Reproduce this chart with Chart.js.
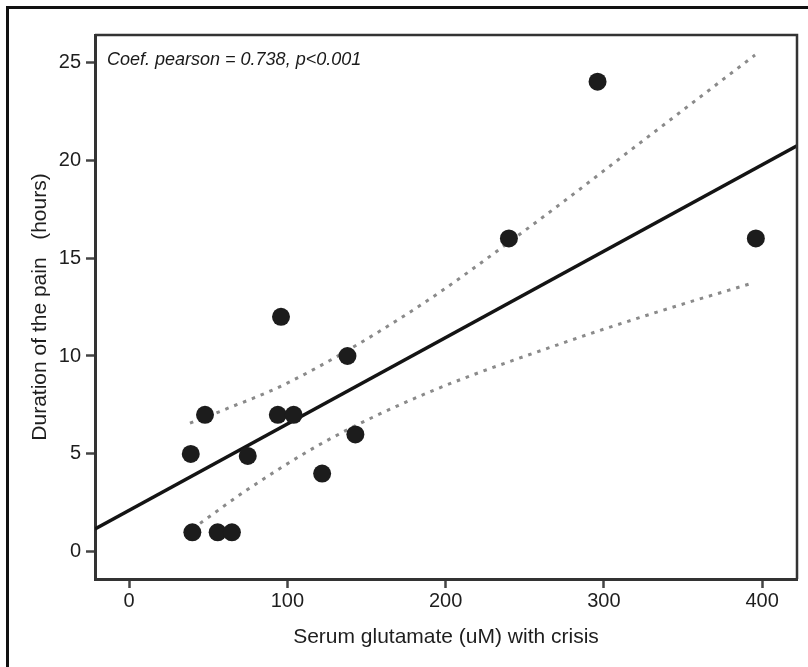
<!DOCTYPE html>
<html>
<head>
<meta charset="utf-8">
<script src="https://cdn.jsdelivr.net/npm/chart.js@4.4.1/dist/chart.umd.min.js"></script>
<style>
  html, body { margin: 0; padding: 0; background: #ffffff; }
  #wrap { width: 808px; height: 667px; position: relative; }
</style>
</head>
<body>
<div id="wrap"><canvas id="c" width="808" height="667"></canvas></div>
<script>
// Observed points: serum glutamate (uM) vs duration of pain (hours)
const glutamate = [39, 48, 40, 56, 65, 75, 94, 104, 122, 143, 96, 138, 240, 296, 396];
const painHours = [5, 7, 1, 1, 1, 4.9, 7, 7, 4, 6, 12, 10, 16, 24, 16];

// Regression line (read at the plot edges)
const fitX = [-21.5, 422];
const fitY = [1.17, 20.73];

// Confidence band, upper curve
const upperX = [38.5, 59.6, 99.6, 179.6, 253.4, 324.9, 395.5];
const upperY = [6.57, 7.24, 8.6, 12.35, 16.6, 21.0, 25.36];

// Confidence band, lower curve
const lowerX = [44.9, 74.4, 123.8, 188, 276.5, 331.2, 393.3];
const lowerY = [1.46, 3.16, 5.63, 8.1, 10.73, 12.18, 13.71];

// Axis ticks
const xTicks = [0, 100, 200, 300, 400];
const yTicks = [0, 5, 10, 15, 20, 25];

const annotationText = 'Coef. pearson = 0.738, p<0.001';
const xTitle = 'Serum glutamate (uM) with crisis';
const yTitle = 'Duration of the pain   (hours)';

const toPts = (xs, ys) => xs.map((x, i) => ({ x: x, y: ys[i] }));

const FONT = "'Liberation Sans', Arial, Helvetica, sans-serif";

const framePlugin = {
  id: 'framePlugin',
  beforeDraw(chart) {
    const ctx = chart.ctx;
    ctx.save();
    ctx.fillStyle = '#ffffff';
    ctx.fillRect(0, 0, chart.width, chart.height);
    ctx.strokeStyle = '#111111';
    ctx.lineWidth = 3;
    ctx.beginPath();
    ctx.moveTo(7.5, chart.height);
    ctx.lineTo(7.5, 7.5);
    ctx.lineTo(chart.width, 7.5);
    ctx.stroke();
    ctx.restore();
  },
  afterDraw(chart) {
    const ctx = chart.ctx;
    const a = chart.chartArea;
    ctx.save();
    ctx.strokeStyle = '#333333';
    ctx.lineWidth = 2.5;
    ctx.beginPath();
    ctx.moveTo(a.left, a.top);
    ctx.lineTo(a.right, a.top);
    ctx.lineTo(a.right, a.bottom);
    ctx.stroke();
    ctx.fillStyle = '#1a1a1a';
    ctx.font = 'italic 18px ' + FONT;
    ctx.textBaseline = 'alphabetic';
    ctx.textAlign = 'left';
    ctx.fillText(annotationText, 107, 65);
    ctx.restore();
  }
};

new Chart(document.getElementById('c'), {
  type: 'scatter',
  data: {
    datasets: [
      {
        label: 'Patients',
        data: toPts(glutamate, painHours),
        backgroundColor: '#1c1c1c',
        borderColor: '#1c1c1c',
        pointRadius: 9,
        pointBorderWidth: 0,
        showLine: false,
        order: 0
      },
      {
        label: 'Fit',
        data: toPts(fitX, fitY),
        showLine: true,
        borderColor: '#141414',
        borderWidth: 3.5,
        pointRadius: 0,
        fill: false,
        order: 1
      },
      {
        label: 'Upper CI',
        data: toPts(upperX, upperY),
        showLine: true,
        borderColor: '#8a8a8a',
        borderWidth: 3,
        borderDash: [3.5, 6],
        pointRadius: 0,
        cubicInterpolationMode: 'monotone',
        fill: false,
        order: 2
      },
      {
        label: 'Lower CI',
        data: toPts(lowerX, lowerY),
        showLine: true,
        borderColor: '#8a8a8a',
        borderWidth: 3,
        borderDash: [3.5, 6],
        pointRadius: 0,
        cubicInterpolationMode: 'monotone',
        fill: false,
        order: 2
      }
    ]
  },
  options: {
    responsive: false,
    animation: false,
    devicePixelRatio: 1,
    layout: { padding: { left: 0, top: 35, right: 11, bottom: 0 } },
    plugins: {
      legend: { display: false },
      tooltip: { enabled: false }
    },
    scales: {
      x: {
        type: 'linear',
        min: -21.5,
        max: 422,
        afterBuildTicks: (s) => { s.ticks = xTicks.map(v => ({ value: v })); },
        afterFit: (s) => { s.height = 88; },
        grid: {
          display: true,
          drawOnChartArea: false,
          drawTicks: true,
          tickLength: 9,
          tickWidth: 2.5,
          tickColor: '#444444'
        },
        border: { display: true, color: '#333333', width: 3 },
        ticks: {
          color: '#1e1e1e',
          font: { family: FONT, size: 20 },
          padding: 1,
          maxRotation: 0
        },
        title: {
          display: true,
          text: xTitle,
          color: '#1e1e1e',
          font: { family: FONT, size: 21 },
          padding: { top: 0, bottom: 17 }
        }
      },
      y: {
        type: 'linear',
        min: -1.38,
        max: 26.38,
        afterBuildTicks: (s) => { s.ticks = yTicks.map(v => ({ value: v })); },
        afterFit: (s) => { s.width = 95; },
        grid: {
          display: true,
          drawOnChartArea: false,
          drawTicks: true,
          tickLength: 9,
          tickWidth: 2.5,
          tickColor: '#444444'
        },
        border: { display: true, color: '#333333', width: 3 },
        ticks: {
          color: '#1e1e1e',
          font: { family: FONT, size: 20 },
          padding: 5
        },
        title: {
          display: true,
          text: yTitle,
          color: '#1e1e1e',
          font: { family: FONT, size: 21 },
          padding: { top: 28, bottom: 0 }
        }
      }
    }
  },
  plugins: [framePlugin]
});
</script>
</body>
</html>
